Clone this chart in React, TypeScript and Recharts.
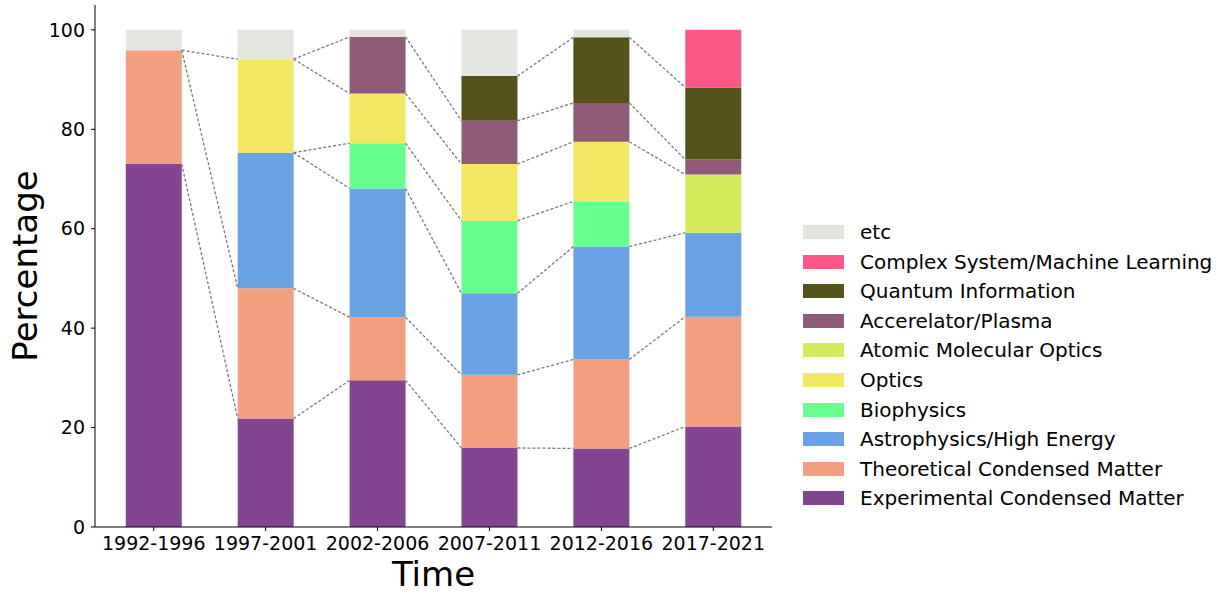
import { Bar, ComposedChart, Label, ReferenceLine, XAxis, YAxis } from 'recharts';

const periods = ['1992-1996', '1997-2001', '2002-2006', '2007-2011', '2012-2016', '2017-2021'];

// percentage of each field per period, stacked bottom to top
const experimentalCM = [73.0, 21.8, 29.5, 15.9, 15.8, 20.2];
const theoreticalCM = [22.9, 26.2, 12.7, 14.7, 17.9, 22.1];
const astroHighEnergy = [0, 27.3, 25.9, 16.4, 22.7, 16.9];
const biophysics = [0, 0, 9.1, 14.6, 9.1, 0];
const optics = [0, 18.8, 10.0, 11.4, 12.0, 0];
const atomicMolecularOptics = [0, 0, 0, 0, 0, 11.7];
const acceleratorPlasma = [0, 0, 11.4, 8.7, 7.8, 3.0];
const quantumInfo = [0, 0, 0, 9.0, 13.2, 14.5];
const complexSystemML = [0, 0, 0, 0, 0, 11.6];
const etc = [4.1, 5.9, 1.4, 9.3, 1.5, 0];

const yTicks = [0, 20, 40, 60, 80, 100];
const xTicks = periods.map((_, i) => i);

// which fields get a dotted connector between neighbouring bars
const connectors: string[][] = [
	['ecm', 'tcm', 'optics'],
	['ecm', 'tcm', 'astro', 'bio', 'optics', 'accel'],
	['ecm', 'tcm', 'astro', 'bio', 'optics', 'accel'],
	['ecm', 'tcm', 'astro', 'bio', 'optics', 'accel', 'quantum'],
	['ecm', 'tcm', 'astro', 'amo', 'accel', 'quantum'],
];

const fields = [
	{ key: 'ecm', name: 'Experimental Condensed Matter', color: '#834592', values: experimentalCM },
	{ key: 'tcm', name: 'Theoretical Condensed Matter', color: '#f49f80', values: theoreticalCM },
	{ key: 'astro', name: 'Astrophysics/High Energy', color: '#68a2e5', values: astroHighEnergy },
	{ key: 'bio', name: 'Biophysics', color: '#66ff8d', values: biophysics },
	{ key: 'optics', name: 'Optics', color: '#f3e863', values: optics },
	{ key: 'amo', name: 'Atomic Molecular Optics', color: '#d4ea5b', values: atomicMolecularOptics },
	{ key: 'accel', name: 'Accerelator/Plasma', color: '#8f5b77', values: acceleratorPlasma },
	{ key: 'quantum', name: 'Quantum Information', color: '#545219', values: quantumInfo },
	{ key: 'complex', name: 'Complex System/Machine Learning', color: '#fe5687', values: complexSystemML },
	{ key: 'etc', name: 'etc', color: '#e2e6df', values: etc },
];

const data = periods.map((period, i) => {
	const row: Record<string, string | number> = { idx: i, period };
	fields.forEach((f) => {
		row[f.key] = f.values[i];
	});
	return row;
});

const cumulativeTop = (key: string, i: number) => {
	let total = 0;
	for (const f of fields) {
		total += f.values[i];
		if (f.key === key) break;
	}
	return total;
};

const font = '"DejaVu Sans", sans-serif';

const YTitle = (props: any) => {
	const vb = props.viewBox;
	const x = vb.x + 36.5;
	const y = vb.y + vb.height / 2;
	return (
		<text x={x} y={y} transform={`rotate(-90 ${x} ${y})`} textAnchor='middle' fontSize={34} fontFamily={font} fill='#000'>
			Percentage
		</text>
	);
};

const XTitle = (props: any) => {
	const vb = props.viewBox;
	return (
		<text x={vb.x + vb.width / 2} y={586} textAnchor='middle' fontSize={34} fontFamily={font} fill='#000'>
			Time
		</text>
	);
};

export default function App() {
	return (
		<div style={{ position: 'absolute', left: 0, top: 0, width: 1223, height: 592, background: '#fff' }}>
			<ComposedChart
				width={1223}
				height={592}
				data={data}
				margin={{ top: 5, right: 451, bottom: 0, left: 0 }}
				barCategoryGap='25%'
			>
				<XAxis
					dataKey='idx'
					type='number'
					domain={[-0.525, 5.525]}
					allowDataOverflow
					ticks={xTicks}
					tickFormatter={(v: number) => periods[v] ?? ''}
					height={65}
					tickSize={4}
					tickMargin={6}
					tick={{ fontSize: 19, fontFamily: font, fill: '#000' }}
					tickLine={{ stroke: '#000' }}
					axisLine={{ stroke: '#000' }}
				>
					<Label content={XTitle} />
				</XAxis>
				<YAxis
					width={95}
					domain={[0, 105]}
					ticks={yTicks}
					allowDataOverflow
					tickSize={4}
					tickMargin={6}
					tick={{ fontSize: 19, fontFamily: font, fill: '#000' }}
					tickLine={{ stroke: '#000' }}
					axisLine={{ stroke: '#000' }}
				>
					<Label content={YTitle} />
				</YAxis>
				{fields.map((f) => (
					<Bar
						key={f.key}
						dataKey={f.key}
						name={f.name}
						stackId='all'
						fill={f.color}
						isAnimationActive={false}
					/>
				))}
				{connectors.flatMap((keys, i) =>
					keys.map((key) => (
						<ReferenceLine
							key={`${i}-${key}`}
							segment={[
								{ x: i + 0.25, y: cumulativeTop(key, i) },
								{ x: i + 0.75, y: cumulativeTop(key, i + 1) },
							]}
							stroke='#7a7a7a'
							strokeWidth={1.3}
							strokeDasharray='3 2'
						/>
					)),
				)}
			</ComposedChart>
			<div style={{ position: 'absolute', left: 803, top: 217.5, fontFamily: font, fontSize: 20 }}>
				{[...fields].reverse().map((f) => (
					<div key={f.key} style={{ display: 'flex', alignItems: 'center', height: 29.55 }}>
						<div style={{ width: 41, height: 14, background: f.color, marginRight: 16 }} />
						<span style={{ color: '#000', whiteSpace: 'nowrap' }}>{f.name}</span>
					</div>
				))}
			</div>
		</div>
	);
}
